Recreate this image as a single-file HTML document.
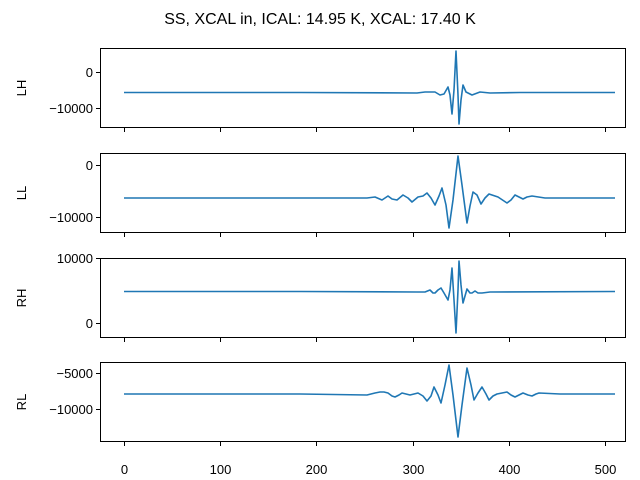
<!DOCTYPE html>
<html><head><style>body{margin:0;background:#fff}svg{display:block}</style></head><body>
<svg width="640" height="480" xmlns="http://www.w3.org/2000/svg" font-family="Liberation Sans, DejaVu Sans, sans-serif" font-size="13">
<text x="320" y="24" text-anchor="middle" font-size="16">SS, XCAL in, ICAL: 14.95 K, XCAL: 17.40 K</text>
<g fill="none" stroke="#1f77b4" stroke-width="1.6" stroke-linejoin="round">
<polyline points="124,92.5 300,92.5 417,93 425,92 435,92 440,95 444,94 448,87 450,95 452,114 454,90 456,51 458,95 459,124 461,100 463,85 466,92 468,93 472,95 480,92 490,93 520,92.5 615,92.5"/>
<polyline points="124,198 300,198 367,198 375,197 382,200 388,196 392,199 397,200 403,195 408,198 412,202 418,197 423,196 427,193 431,198 435,205 439,196 442,188 446,205 449,228 453,200 458,156 462,185 467,223 470,206 473,192 477,195 481,204 485,198 489,194 498,197 507,203 511,200 515,195 519,197 523,199 527,197 532,196 545,198 615,198"/>
<polyline points="124,291.5 300,291.5 417,292 425,292 430,290 433,293 435,293 438,290 441,288 444,293 448,300 450,290 452,268 454,300 456,333 458,290 459,261 461,285 463,303 465,296 467,289 470,293 472,293 475,291 478,293 482,293 490,292 615,291.5"/>
<polyline points="124,394 300,394 367,395 375,393 380,392 384,392 388,393 392,396 395,397 399,395 402,393 406,394 410,395 414,394 418,393 423,396 427,401 431,396 434,387 438,395 441,403 445,385 449,365 453,395 458,437 462,405 467,368 471,385 474,400 478,393 482,387 486,394 489,400 493,396 497,394 502,393 507,392 511,395 515,397 519,395 523,393 528,395 532,396 536,394 539,393 560,394 615,394"/>
</g>
<g fill="none" stroke="#000" stroke-width="1">
<rect x="100.5" y="48.5" width="525" height="79"/>
<rect x="100.5" y="153.5" width="525" height="79"/>
<rect x="100.5" y="258.5" width="525" height="79"/>
<rect x="100.5" y="362.5" width="525" height="79"/>
<path d="M96,72.5h4.5M96,108.5h4.5M96,165.5h4.5M96,217.5h4.5M96,258.5h4.5M96,323.5h4.5M96,373.5h4.5M96,409.5h4.5"/>
<path d="M124.5,128v4M220.5,128v4M316.5,128v4M413.5,128v4M509.5,128v4M605.5,128v4
M124.5,233v4M220.5,233v4M316.5,233v4M413.5,233v4M509.5,233v4M605.5,233v4
M124.5,338v4M220.5,338v4M316.5,338v4M413.5,338v4M509.5,338v4M605.5,338v4
M124.5,442v4M220.5,442v4M316.5,442v4M413.5,442v4M509.5,442v4M605.5,442v4"/>
</g>
<g text-anchor="end">
<text x="93" y="77">0</text><text x="93" y="113">−10000</text>
<text x="93" y="170">0</text><text x="93" y="222">−10000</text>
<text x="93" y="263">10000</text><text x="93" y="328">0</text>
<text x="93" y="378">−5000</text><text x="93" y="414">−10000</text>
</g>
<g text-anchor="middle">
<text x="124.5" y="474">0</text><text x="220.5" y="474">100</text><text x="316.5" y="474">200</text><text x="413.5" y="474">300</text><text x="509.5" y="474">400</text><text x="605.5" y="474">500</text>
<text transform="translate(26,88) rotate(-90)">LH</text>
<text transform="translate(26,193) rotate(-90)">LL</text>
<text transform="translate(26,298) rotate(-90)">RH</text>
<text transform="translate(26,402) rotate(-90)">RL</text>
</g>
</svg>
</body></html>
